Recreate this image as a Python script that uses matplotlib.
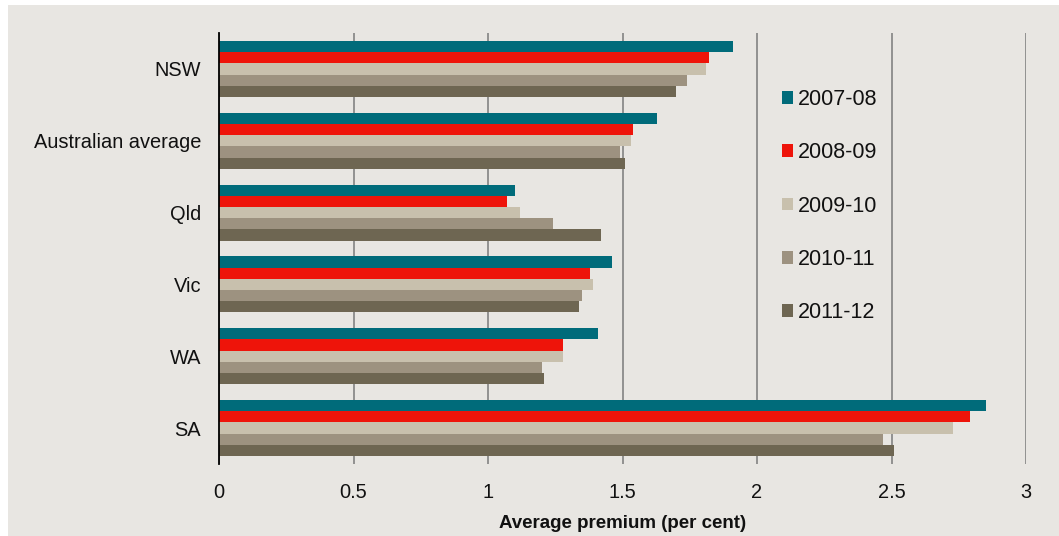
import numpy as np
import matplotlib
matplotlib.use("Agg")
import matplotlib.pyplot as plt
from matplotlib.patches import Rectangle

plt.rcParams['font.family'] = ['Liberation Sans', 'DejaVu Sans']

# regions top to bottom, one bar per year in each group
regions = ['NSW', 'Australian average', 'Qld', 'Vic', 'WA', 'SA']
years = ['2007-08', '2008-09', '2009-10', '2010-11', '2011-12']

prem_0708 = [1.91, 1.63, 1.10, 1.46, 1.41, 2.85]
prem_0809 = [1.82, 1.54, 1.07, 1.38, 1.28, 2.79]
prem_0910 = [1.81, 1.53, 1.12, 1.39, 1.28, 2.73]
prem_1011 = [1.74, 1.49, 1.24, 1.35, 1.20, 2.47]
prem_1112 = [1.70, 1.51, 1.42, 1.34, 1.21, 2.51]
series = [prem_0708, prem_0809, prem_0910, prem_1011, prem_1112]

colours = ['#006b7a', '#ee140a', '#c8c0ad', '#9d9280', '#6e6652']
bg = '#e8e6e2'

fig = plt.figure(figsize=(10.59, 5.36), dpi=100, facecolor='white')
# grey panel with a thin white margin on the top and left
fig.patches.append(Rectangle((8 / 1059, 0), 1, 1 - 5 / 536, transform=fig.transFigure,
                             facecolor=bg, edgecolor='none', zorder=-10))

ax = fig.add_axes([219 / 1059, 1 - 464 / 536, (1026 - 219) / 1059, (464 - 33) / 536])
ax.patch.set_visible(False)

y = np.arange(len(regions))
bar_h = 0.156
for i, (vals, col, lab) in enumerate(zip(series, colours, years)):
    offs = (i - 2) * bar_h
    ax.barh(y + offs, vals, height=bar_h, color=col, label=lab, zorder=3)

ax.set_xlim(0, 3)
ax.set_ylim(len(regions) - 0.5, -0.5)
ax.set_xticks(np.arange(0, 3.01, 0.5))
ax.set_xticklabels(['0', '0.5', '1', '1.5', '2', '2.5', '3'])
ax.set_yticks(y)
ax.set_yticklabels(regions)
ax.tick_params(axis='both', length=0, labelsize=14.4, colors='#111111')
ax.tick_params(axis='y', pad=13)
ax.tick_params(axis='x', pad=14)

ax.grid(axis='x', color='#7a7a7a', linewidth=1.1, zorder=0)
ax.grid(axis='y', visible=False)
for side in ['top', 'right', 'bottom']:
    ax.spines[side].set_visible(False)
ax.spines['left'].set_color('black')
ax.spines['left'].set_linewidth(1.3)
ax.spines['left'].set_zorder(5)

ax.set_xlabel('Average premium (per cent)', fontsize=13.5, fontweight='bold',
              color='#111111', labelpad=9)

leg = ax.legend(loc='upper left', bbox_to_anchor=((782 - 219) / 807, (464 - 89) / 431),
                frameon=False, fontsize=15.5, handlelength=0.52, handleheight=0.52,
                handletextpad=0.22, labelspacing=1.50, borderpad=0, borderaxespad=0)
for t in leg.get_texts():
    t.set_color('#111111')

fig.savefig('out.png', dpi=100, facecolor=fig.get_facecolor())
